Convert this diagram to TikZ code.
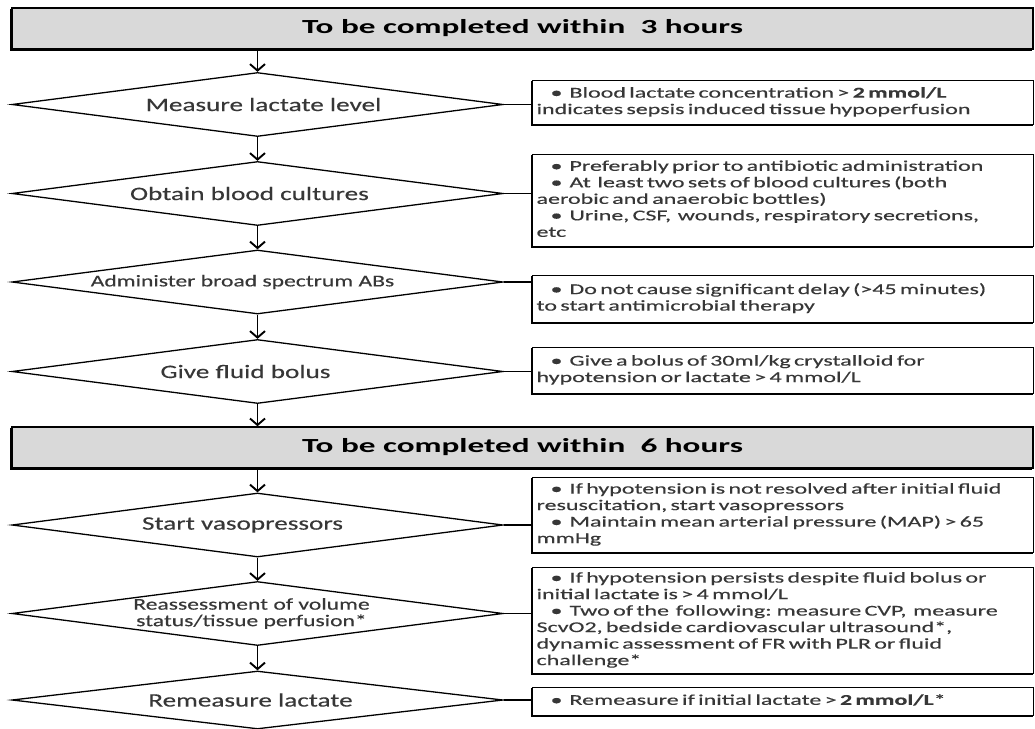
\documentclass[tikz,border=0pt]{standalone}
\usepackage{fontspec}
\setmainfont{Carlito}[FakeStretch=1.43,FakeBold=0.3]
\newfontfamily\hfont{Carlito}[FakeStretch=1.66]
\newfontfamily\bfont{Carlito}[FakeStretch=1.6,FakeBold=0.3]
\usetikzlibrary{shapes.geometric,arrows.meta}
\definecolor{txt}{RGB}{55,55,55}
\definecolor{hdfill}{RGB}{217,217,217}
\newcommand\bl{\hspace*{14pt}•\hspace{7pt}}
\newcommand\boxtext[1]{\bfont\fontsize{15}{16.5}\selectfont\begin{tabular}{@{}l@{}}#1\end{tabular}}
\newcommand\sh[2]{\hspace*{#1}#2}
\begin{document}
\begin{tikzpicture}[x=1pt,y=-1pt,
  shd/.style={preaction={draw=black,line width=1.3pt,transform canvas={shift={(-1.2pt,-1.2pt)}}}},
  hdr/.style={shd,draw,line width=1.5pt,fill=hdfill,minimum width=1021pt,minimum height=41pt,inner sep=0pt,
    font=\hfont\fontsize{20}{24}\selectfont\bfseries,text=black},
  dia/.style={diamond,draw,line width=1.3pt,fill=white,aspect=7.7,inner sep=0pt,minimum width=491pt,
    minimum height=64pt,text=txt,font=\fontsize{19}{22}\selectfont,align=center},
  infobox/.style={shd,draw,line width=1.1pt,fill=white,anchor=north west,minimum width=501pt,
    text width=493pt,inner xsep=4pt,inner ysep=0pt,align=left,text=txt},
  arr/.style={line width=1.9pt,-{Straight Barb[length=6.5pt,width=15pt,line width=1.9pt]}},
  conn/.style={line width=1.3pt}]
\fill[white] (0,0) rectangle (1035,728);
\useasboundingbox (0,0) rectangle (1035,728);

\node[hdr] (h1) at (522.5,28.5) {To be completed within \ 3 hours};
\node[hdr] (h2) at (522.5,447.5) {To be completed within \ 6 hours};

\node[dia] (d1) at (257.5,104.5) {\sh{12pt}{Measure lactate level}};
\node[dia] (d2) at (257.5,193.5) {\sh{-16pt}{Obtain blood cultures}};
\node[dia,font=\fontsize{16.5}{19}\selectfont] (d3) at (257.5,282) {\raisebox{1pt}{\sh{-30pt}{Administer broad spectrum ABs}}};
\node[dia] (d4) at (257.5,371.5) {\sh{-24pt}{Give fluid bolus}};
\node[dia] (d5) at (257.5,525) {\raisebox{-8pt}{\sh{-30pt}{Start vasopressors}}};
\node[dia,font=\fontsize{16.5}{16.5}\selectfont] (d6) at (257.5,613.5) {\sh{-12pt}{Reassessment of volume}\\\sh{-12pt}{status/tissue perfusion*}};
\node[dia,minimum height=58pt] (d7) at (257.5,700) {\raisebox{-2pt}{\sh{-14pt}{Remeasure lactate}}};

\node[infobox,minimum height=44pt] (b1) at (532,80) {\boxtext{\bl Blood lactate concentration > \textbf{2 mmol/L}\\
indicates sepsis induced tissue hypoperfusion}};
\node[infobox,minimum height=92pt] (b2) at (532,154) {\boxtext{\bl Preferably prior to antibiotic administration\\
\bl At \ least two sets of blood cultures (both\\
aerobic and anaerobic bottles)\\
\bl Urine, CSF, \ wounds, respiratory secretions,\\
etc}};
\node[infobox,minimum height=47pt] (b3) at (532,275) {\boxtext{\bl Do not cause significant delay (>45 minutes)\\
to start antimicrobial therapy}};
\node[infobox,minimum height=46pt] (b4) at (532,347) {\boxtext{\bl Give a bolus of 30ml/kg crystalloid for\\
hypotension or lactate > 4 mmol/L}};
\node[infobox,minimum height=75pt] (b5) at (532,477) {\boxtext{\bl If hypotension is not resolved after initial fluid\\
resuscitation, start vasopressors\\
\bl Maintain mean arterial pressure (MAP) > 65\\
mmHg}};
\node[infobox,minimum height=106pt] (b6) at (532,567) {\boxtext{\bl If hypotension persists despite fluid bolus or\\
initial lactate is > 4 mmol/L\\
\bl Two of the \ following: measure CVP, \ measure\\
ScvO2, bedside cardiovascular ultrasound*,\\
dynamic assessment of FR with PLR or fluid\\
challenge*}};
\node[infobox,minimum height=28pt] (b7) at (532,687) {\boxtext{\bl Remeasure if initial lactate > \textbf{2 mmol/L}*}};

\draw[arr] (h1.south -| d1.north) -- (d1.north);
\draw[arr] (d1.south) -- (d2.north);
\draw[arr] (d2.south) -- (d3.north);
\draw[arr] (d3.south) -- (d4.north);
\draw[arr] (d4.south) -- (h2.north -| d4.south);
\draw[arr] (h2.south -| d5.north) -- (d5.north);
\draw[arr] (d5.south) -- (d6.north);
\draw[arr] (d6.south) -- (d7.north);

\foreach \i in {1,...,7} \draw[conn] (d\i.east) -- (d\i.east -| b\i.west);
\end{tikzpicture}
\end{document}
